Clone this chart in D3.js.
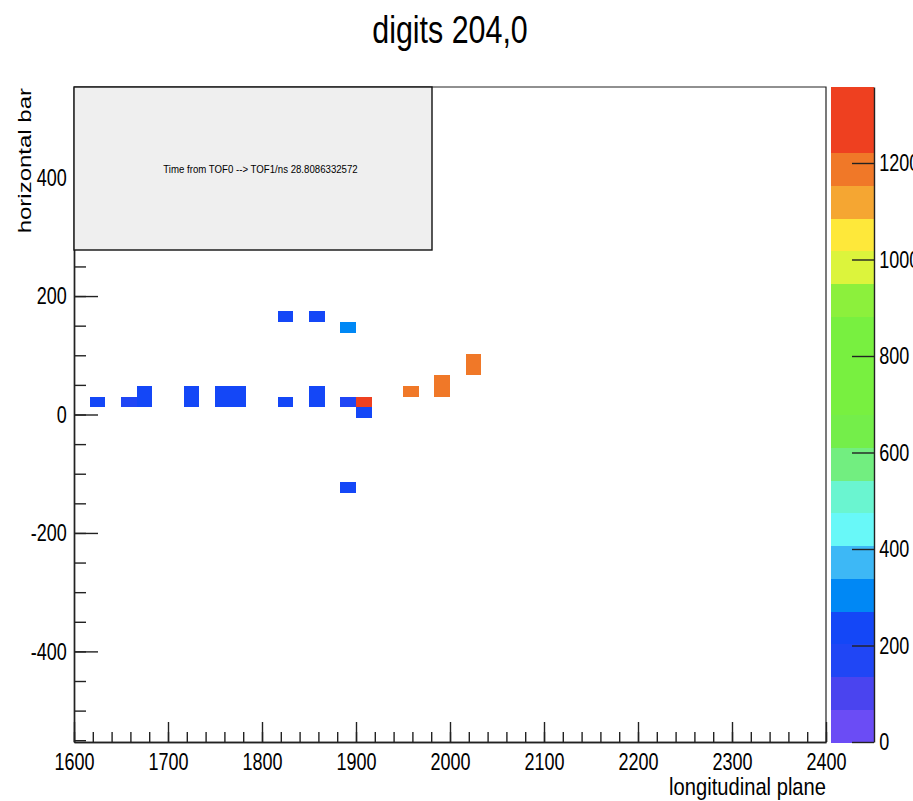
<!DOCTYPE html>
<html>
<head>
<meta charset="UTF-8">
<style>
  body { margin: 0; background: white; }
  svg { display: block; }
  text { font-family: "Liberation Sans", Arial, sans-serif; fill: black; }
  .axis path, .axis line { stroke: #222; stroke-width: 1.4px; }
</style>
</head>
<body>
<svg width="913" height="801"></svg>
<script src="https://cdnjs.cloudflare.com/ajax/libs/d3/7.8.5/d3.min.js"></script>
<script>
// histogram bins (bin centres) and contents
let cellX = [1625, 1658.3, 1675, 1675, 1725, 1725, 1758.3, 1758.3, 1775, 1775,
             1825, 1858.3, 1858.3, 1891.7, 1908.3, 1908.3,
             1825, 1858.3, 1891.7, 1891.7,
             1958.3, 1991.7, 1991.7, 2025, 2025];
let cellY = [21, 21, 21, 39, 21, 39, 21, 39, 21, 39,
             21, 21, 39, 21, 21, 3,
             165, 165, 147, -123,
             39, 39, 57, 75, 93];
let cellZ = [210, 200, 215, 205, 220, 210, 225, 215, 220, 210,
             205, 215, 210, 200, 1350, 220,
             210, 205, 300, 215,
             1180, 1185, 1180, 1190, 1185];

let binW = 50 / 3, binH = 18;

// colour palette, bottom to top (20 contour levels)
let paletteColors = ["#6b4cf5", "#4a44ef", "#2046f5", "#1447f7", "#0088f5",
                     "#3db8f6", "#68f8f8", "#6af5d0", "#72ee80", "#74ee4a",
                     "#78f040", "#78f040", "#78f040", "#8cf03c", "#dcf43c",
                     "#fee83a", "#f5a632", "#f07828", "#ee4020", "#ee4020"];

let xMajor = d3.range(1600, 2401, 100);
let xMinor = d3.range(1600, 2401, 20);
let yMajor = [-400, -200, 0, 200, 400];
let yMinor = d3.range(-550, 551, 50);
let zTicks = [0, 200, 400, 600, 800, 1000, 1200];

let zMax = 1357.5;
let titleText = "digits 204,0";
let boxText = "Time from TOF0 --> TOF1/ns  28.8086332572";

let svg = d3.select("svg");
let fLeft = 74, fRight = 826, fTop = 87, fBottom = 742;
let sq = 0.75; // horizontal squeeze of the original picture
let plain = d => String(d);

let x = d3.scaleLinear().domain([1600, 2400]).range([fLeft, fRight]);
let y = d3.scaleLinear().domain([-553, 553]).range([fBottom, fTop]);
let z = d3.scaleLinear().domain([0, zMax]).range([fBottom, fTop]);
let color = d3.scaleQuantize().domain([0, zMax]).range(paletteColors);

svg.append("rect").attr("width", 913).attr("height", 801).attr("fill", "white");

// cells
svg.append("g").attr("shape-rendering", "crispEdges").selectAll("rect")
    .data(cellX.map((d, i) => ({ x: d, y: cellY[i], z: cellZ[i] })))
    .enter()
    .append("rect")
    .attr("x", d => x(d.x - binW / 2))
    .attr("y", d => y(d.y + binH / 2))
    .attr("width", d => x(d.x + binW / 2) - x(d.x - binW / 2))
    .attr("height", d => y(d.y - binH / 2) - y(d.y + binH / 2))
    .attr("fill", d => color(d.z));

// frame top / right
svg.append("path")
    .attr("d", `M${fLeft},${fTop}H${fRight}V${fBottom}`)
    .attr("fill", "none").attr("stroke", "#222").attr("stroke-width", 1.2);

// x axis
svg.append("g").attr("class", "axis")
    .attr("transform", `translate(0,${fBottom})`)
    .call(d3.axisBottom(x).tickValues(xMinor).tickSize(-10).tickSizeOuter(0).tickFormat(""));
let gx = svg.append("g").attr("class", "axis")
    .attr("transform", `translate(0,${fBottom})`)
    .call(d3.axisBottom(x).tickValues(xMajor).tickSize(-20).tickSizeOuter(0).tickPadding(11).tickFormat(plain));
gx.selectAll("text").attr("font-size", 24).attr("transform", `scale(${sq},1)`);

// y axis
svg.append("g").attr("class", "axis")
    .attr("transform", `translate(${fLeft},0)`)
    .call(d3.axisLeft(y).tickValues(yMinor).tickSize(-12).tickSizeOuter(0).tickFormat(""));
let gy = svg.append("g").attr("class", "axis")
    .attr("transform", `translate(${fLeft},0)`)
    .call(d3.axisLeft(y).tickValues(yMajor).tickSize(-24).tickSizeOuter(0).tickPadding(9.5).tickFormat(plain));
gy.selectAll("text").attr("font-size", 24).attr("transform", `scale(${sq},1)`);
svg.selectAll(".axis text").attr("font-family", "Liberation Sans, Arial, sans-serif");

// colour palette
let palL = 831, palR = 874;
svg.append("g").attr("shape-rendering", "crispEdges").selectAll("rect")
    .data(paletteColors)
    .enter()
    .append("rect")
    .attr("x", palL)
    .attr("width", palR - palL)
    .attr("y", (d, i) => z((i + 1) * zMax / paletteColors.length))
    .attr("height", (d, i) => z(i * zMax / paletteColors.length) - z((i + 1) * zMax / paletteColors.length) + 0.5)
    .attr("fill", d => d);
let gz = svg.append("g").attr("class", "axis")
    .attr("transform", `translate(${palR},0)`)
    .call(d3.axisRight(z).tickValues(zTicks).tickSize(-22).tickSizeOuter(0).tickPadding(7).tickFormat(plain));
gz.selectAll("text").attr("font-size", 24).attr("transform", `scale(${sq},1)`)
    .attr("font-family", "Liberation Sans, Arial, sans-serif");

// text box
svg.append("rect")
    .attr("x", fLeft).attr("y", fTop)
    .attr("width", 432 - fLeft).attr("height", 250 - fTop)
    .attr("fill", "#efefef").attr("stroke", "#111").attr("stroke-width", 1.4);
svg.append("text")
    .attr("transform", `translate(260.5,173) scale(0.92,1)`)
    .attr("text-anchor", "middle")
    .attr("font-size", 10.5)
    .attr("fill", "#222")
    .text(boxText);

// titles
svg.append("text")
    .attr("transform", `translate(450,43) scale(0.78,1)`)
    .attr("text-anchor", "middle")
    .attr("font-size", 39)
    .text(titleText);
svg.append("text")
    .attr("transform", `translate(826,795) scale(0.84,1)`)
    .attr("text-anchor", "end")
    .attr("font-size", 24)
    .text("longitudinal plane");
svg.append("text")
    .attr("transform", `translate(31,88) rotate(-90) scale(1,${sq})`)
    .attr("text-anchor", "end")
    .attr("font-size", 24)
    .text("horizontal bar");
</script>
</body>
</html>
